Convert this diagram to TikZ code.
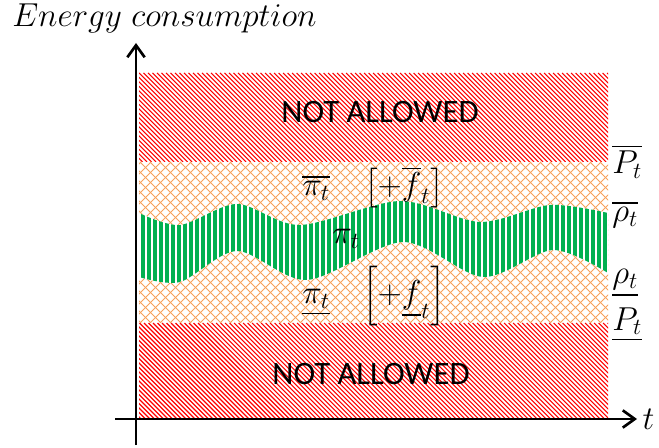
\documentclass[tikz,border=0pt]{standalone}
\usepackage{fontspec}
\usepackage{amsmath}
\usepackage{xcolor}
\newfontfamily\zonefont{Carlito}
\definecolor{hatchred}{RGB}{255,0,0}
\definecolor{hatchorange}{RGB}{248,160,90}
\definecolor{bandgreen}{RGB}{0,176,80}
\usetikzlibrary{arrows.meta,positioning}

\begin{document}
\begin{tikzpicture}[
  x=0.75pt, y=-0.75pt,
  font=\fontsize{23}{27}\selectfont,
  axis/.style={line width=2pt, -{Straight Barb[length=9pt,width=13pt,line width=2pt]}},
  redhatch/.style={draw=hatchred, line width=0.8pt},
  crosshatch/.style={draw=hatchorange, line width=0.55pt},
  greenstripe/.style={draw=bandgreen, line width=2.3pt},
  zone/.style={font=\zonefont\fontsize{24.5}{28}\selectfont, inner sep=0pt},
  lbl/.style={inner sep=0pt, anchor=base},
  side/.style={inner sep=0pt, anchor=base west},
]
\useasboundingbox (0,0) rectangle (659,448);
% forbidden zones
\begin{scope}
\clip (139,73) rectangle (608,162);
\foreach \x in {40,44.5,...,608} \draw[redhatch] (\x,73) -- ++(89,89);
\end{scope}
\begin{scope}
\clip (139,323) rectangle (608,419);
\foreach \x in {36,40.5,...,608} \draw[redhatch] (\x,323) -- ++(96,96);
\end{scope}
% flexibility zone
\begin{scope}
\clip (139,162) rectangle (608,323);
\foreach \x in {-30,-20,...,610} {
  \draw[crosshatch] (\x,162) -- ++(161,161);
  \draw[crosshatch] (\x,323) -- ++(161,-161);
}
\end{scope}
% consumption band
\begin{scope}
\clip plot[smooth] coordinates {(139,213) (180,225) (237,204) (300,225) (400,201) (480,222) (550,205) (608,213)}
  -- plot[smooth] coordinates {(608,273) (553,250) (483,277) (403,242) (307,280) (237,251) (180,282) (139,277)} -- cycle;
\fill[white] (139,150) rectangle (608,300);
\foreach \x in {143,149,...,608} \draw[greenstripe] (\x,190) -- (\x,295);
\end{scope}
% axes
\coordinate (ybot) at (136,445);
\coordinate (ytop) at (136,43);
\coordinate (xleft) at (115,419);
\coordinate (xright) at (637,419);
\draw[axis] (ybot) -- (ytop);
\draw[axis] (xleft) -- (xright);
\node[right=4pt of xright, inner sep=0pt] (tlabel) {$t$};
\node[anchor=base west, inner sep=0pt, font=\fontsize{23.5}{27}\selectfont] (ylabel) at (12,27) {$Energy\ consumption$};
% zone labels
\node[zone] (topzone) at (380,112) {NOT ALLOWED};
\node[zone] (botzone) at (371,374) {NOT ALLOWED};
\node[lbl] (piup) at (316,196) {$\overline{\pi_t}$};
\node[lbl] (fup) at (404,196) {$\left[+\overline{f}_t\right]$};
\node[lbl] (pimid) at (346,244) {$\pi_t$};
\node[lbl] (pilow) at (316,304) {$\underline{\pi_t}$};
\node[lbl] (flow) at (404,304) {$\left[+\underline{f}_t\right]$};
% bounds
\node[side] (Pmax) at (612,174) {$\overline{P_t}$};
\node[side] (rhomax) at (612,222) {$\overline{\rho_t}$};
\node[side] (rhomin) at (612,284) {$\underline{\rho_t}$};
\node[side] (Pmin) at (612,330) {$\underline{P_t}$};
\end{tikzpicture}
\end{document}
